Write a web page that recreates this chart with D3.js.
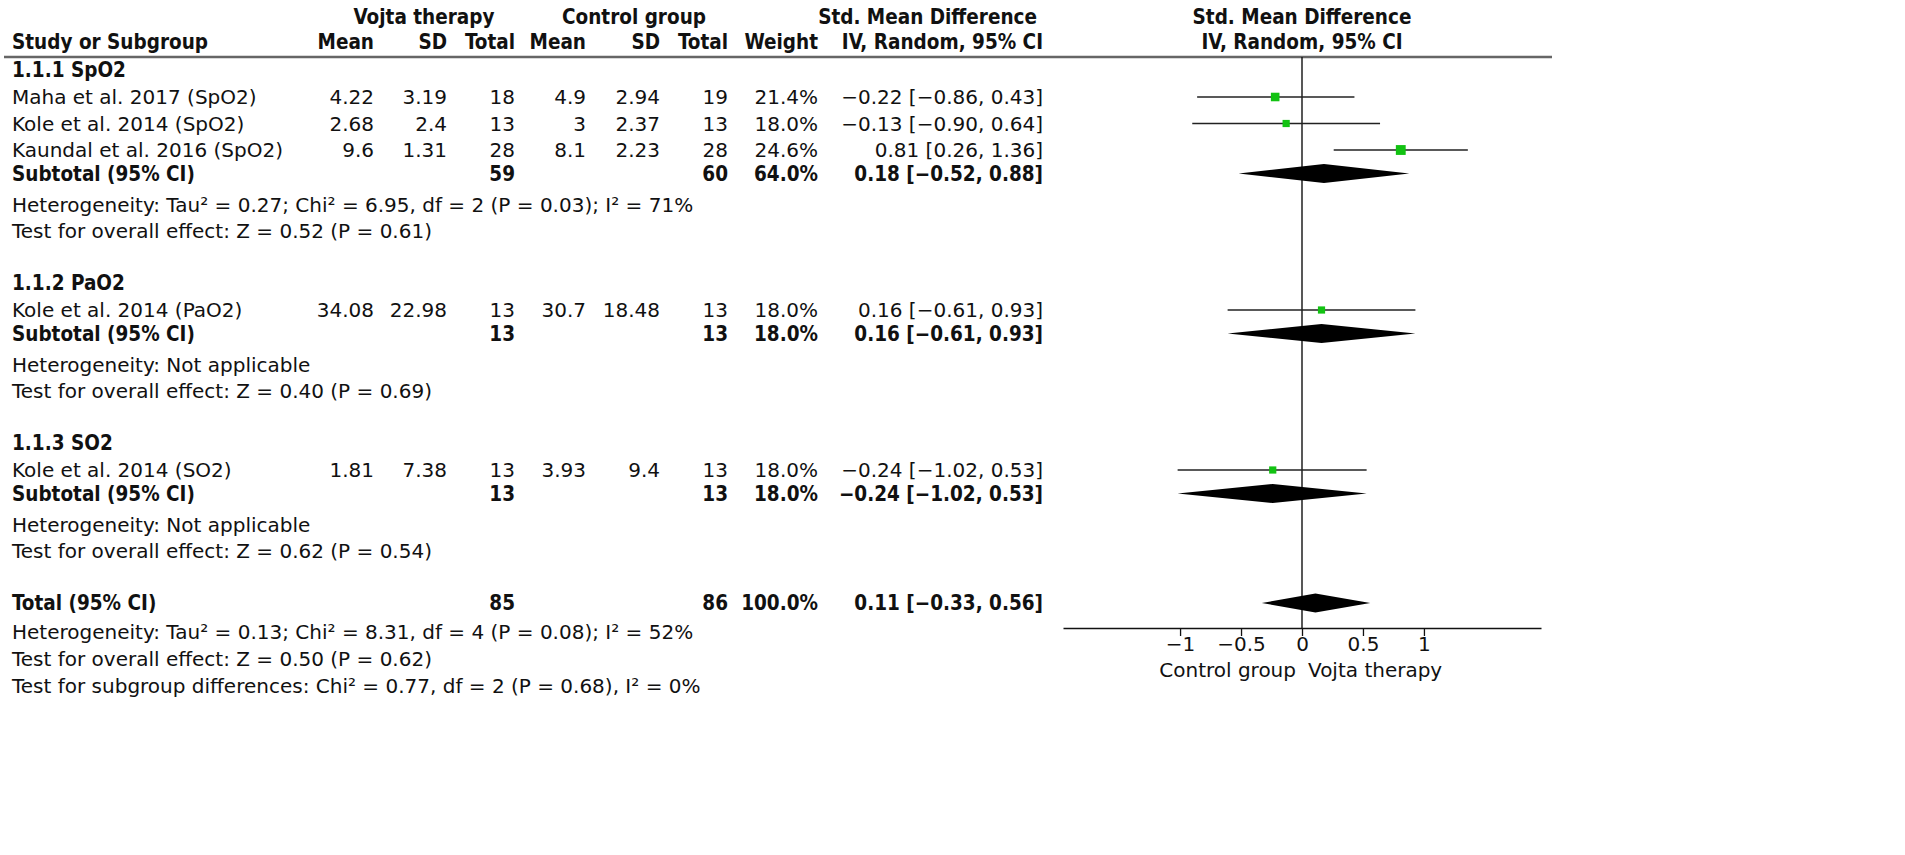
<!DOCTYPE html>
<html>
<head>
<meta charset="utf-8">
<script src="https://cdn.jsdelivr.net/npm/d3@7"></script>
<style>
  html, body { margin: 0; padding: 0; background: #fff; }
  text { font-family: "DejaVu Sans", Verdana, sans-serif; font-size: 20px; fill: #111; }
  .b { font-weight: bold; font-stretch: condensed; font-size: 20.5px; }
</style>
</head>
<body>
<svg id="chart" width="1905" height="855"></svg>
<script>
// --- données des études ---
const studyNames = ["Maha et al. 2017 (SpO2)", "Kole et al. 2014 (SpO2)", "Kaundal et al. 2016 (SpO2)", "Kole et al. 2014 (PaO2)", "Kole et al. 2014 (SO2)"];
const studyGroup = [0, 0, 0, 1, 2];
const vojtaMean = ["4.22", "2.68", "9.6", "34.08", "1.81"];
const vojtaSD = ["3.19", "2.4", "1.31", "22.98", "7.38"];
const vojtaTotal = [18, 13, 28, 13, 13];
const controlMean = ["4.9", "3", "8.1", "30.7", "3.93"];
const controlSD = ["2.94", "2.37", "2.23", "18.48", "9.4"];
const controlTotal = [19, 13, 28, 13, 13];
const studyWeight = [21.4, 18.0, 24.6, 18.0, 18.0];
const studySmd = [-0.22, -0.13, 0.81, 0.16, -0.24];
const studyLow = [-0.86, -0.90, 0.26, -0.61, -1.02];
const studyHigh = [0.43, 0.64, 1.36, 0.93, 0.53];

// --- sous-groupes ---
const subgroupNames = ["1.1.1 SpO2", "1.1.2 PaO2", "1.1.3 SO2"];
const subVojtaTotal = [59, 13, 13];
const subControlTotal = [60, 13, 13];
const subWeight = [64.0, 18.0, 18.0];
const subSmd = [0.18, 0.16, -0.24];
const subLow = [-0.52, -0.61, -1.02];
const subHigh = [0.88, 0.93, 0.53];
const subHeterogeneity = [
  "Heterogeneity: Tau² = 0.27; Chi² = 6.95, df = 2 (P = 0.03); I² = 71%",
  "Heterogeneity: Not applicable",
  "Heterogeneity: Not applicable"
];
const subOverall = [
  "Test for overall effect: Z = 0.52 (P = 0.61)",
  "Test for overall effect: Z = 0.40 (P = 0.69)",
  "Test for overall effect: Z = 0.62 (P = 0.54)"
];

// --- total ---
const totalVojta = 85, totalControl = 86, totalWeight = 100.0;
const totalSmd = 0.11, totalLow = -0.33, totalHigh = 0.56;
const totalNotes = [
  "Heterogeneity: Tau² = 0.13; Chi² = 8.31, df = 4 (P = 0.08); I² = 52%",
  "Test for overall effect: Z = 0.50 (P = 0.62)",
  "Test for subgroup differences: Chi² = 0.77, df = 2 (P = 0.68), I² = 0%"
];

// --- axe ---
const axisTicks = [-1, -0.5, 0, 0.5, 1];
const axisTickLabels = ["−1", "−0.5", "0", "0.5", "1"];
const favourLabels = ["Control group", "Vojta therapy"];

const svg = d3.select("#chart");
const f2 = d3.format(".2f");
const f1 = d3.format(".1f");
const ciText = (e, l, h) => `${f2(e)} [${f2(l)}, ${f2(h)}]`;

// colonnes (bord droit pour les nombres)
const col = { name: 12, m1: 374, sd1: 447, n1: 515, m2: 586, sd2: 660, n2: 728, w: 818, ci: 1043 };

const x = d3.scaleLinear().domain([-1.96, 1.96]).range([1063, 1541]);
const boxSize = d3.scaleLinear().domain([0, 25]).range([0, 10]);
const axisY = 628;
const halfDiamond = 9.5;

function txt(xp, yp, s, anchor, bold) {
  return svg.append("text")
    .attr("x", xp).attr("y", yp).attr("dy", "0.36em")
    .attr("text-anchor", anchor || "start")
    .attr("class", bold ? "b" : null)
    .text(s);
}

// --- en-têtes ---
txt(424, 17, "Vojta therapy", "middle", true);
txt(634, 17, "Control group", "middle", true);
txt(col.ci - 6, 17, "Std. Mean Difference", "end", true);
txt(x(0), 17, "Std. Mean Difference", "middle", true);
txt(col.name, 42, "Study or Subgroup", "start", true);
txt(col.m1, 42, "Mean", "end", true);
txt(col.sd1, 42, "SD", "end", true);
txt(col.n1, 42, "Total", "end", true);
txt(col.m2, 42, "Mean", "end", true);
txt(col.sd2, 42, "SD", "end", true);
txt(col.n2, 42, "Total", "end", true);
txt(col.w, 42, "Weight", "end", true);
txt(col.ci, 42, "IV, Random, 95% CI", "end", true);
txt(x(0), 42, "IV, Random, 95% CI", "middle", true);

svg.append("line")
  .attr("x1", 4).attr("x2", 1552).attr("y1", 57).attr("y2", 57)
  .attr("stroke", "#666").attr("stroke-width", 2.4);

// ligne verticale (effet nul)
svg.append("line")
  .attr("x1", x(0)).attr("x2", x(0)).attr("y1", 57).attr("y2", axisY)
  .attr("stroke", "#111").attr("stroke-width", 1.4);

function diamond(yc, e, l, h) {
  const pts = [[x(l), yc], [x(e), yc - halfDiamond], [x(h), yc], [x(e), yc + halfDiamond]];
  svg.append("path").attr("d", d3.line()(pts) + "Z").attr("fill", "#000");
}

// --- lignes ---
let y = 70;
subgroupNames.forEach((g, gi) => {
  txt(col.name, y, g, "start", true);
  y += 27;
  const idx = studyNames.map((_, i) => i).filter(i => studyGroup[i] === gi);
  idx.forEach((i, k) => {
    if (k > 0) y += 26.5;
    txt(col.name, y, studyNames[i]);
    txt(col.m1, y, vojtaMean[i], "end");
    txt(col.sd1, y, vojtaSD[i], "end");
    txt(col.n1, y, vojtaTotal[i], "end");
    txt(col.m2, y, controlMean[i], "end");
    txt(col.sd2, y, controlSD[i], "end");
    txt(col.n2, y, controlTotal[i], "end");
    txt(col.w, y, f1(studyWeight[i]) + "%", "end");
    txt(col.ci, y, ciText(studySmd[i], studyLow[i], studyHigh[i]), "end");
    svg.append("line")
      .attr("x1", x(studyLow[i])).attr("x2", x(studyHigh[i]))
      .attr("y1", y).attr("y2", y)
      .attr("stroke", "#222").attr("stroke-width", 1.6);
    const s = boxSize(studyWeight[i]);
    svg.append("rect")
      .attr("x", x(studySmd[i]) - s / 2).attr("y", y - s / 2)
      .attr("width", s).attr("height", s)
      .attr("fill", "#12c212");
  });
  y += 23.5;
  txt(col.name, y, "Subtotal (95% CI)", "start", true);
  txt(col.n1, y, subVojtaTotal[gi], "end", true);
  txt(col.n2, y, subControlTotal[gi], "end", true);
  txt(col.w, y, f1(subWeight[gi]) + "%", "end", true);
  txt(col.ci, y, ciText(subSmd[gi], subLow[gi], subHigh[gi]), "end", true);
  diamond(y, subSmd[gi], subLow[gi], subHigh[gi]);
  y += 31;
  txt(col.name, y, subHeterogeneity[gi]);
  y += 26.5;
  txt(col.name, y, subOverall[gi]);
  y += 52;
});

txt(col.name, y, "Total (95% CI)", "start", true);
txt(col.n1, y, totalVojta, "end", true);
txt(col.n2, y, totalControl, "end", true);
txt(col.w, y, f1(totalWeight) + "%", "end", true);
txt(col.ci, y, ciText(totalSmd, totalLow, totalHigh), "end", true);
diamond(y, totalSmd, totalLow, totalHigh);
y += 29;
totalNotes.forEach((n, i) => txt(col.name, y + i * 27, n));

// --- axe du bas ---
const axis = svg.append("g")
  .attr("transform", `translate(0,${axisY})`)
  .call(d3.axisBottom(x).tickValues(axisTicks)
    .tickFormat((d, i) => axisTickLabels[i])
    .tickSize(8).tickSizeOuter(0).tickPadding(1));
axis.selectAll("path, line").attr("stroke", "#111").attr("stroke-width", 1.3);
axis.selectAll("text")
  .style("font-family", "\"DejaVu Sans\", Verdana, sans-serif")
  .style("font-size", "20px").attr("fill", "#111");

txt(x(0) - 6, 670, favourLabels[0], "end");
txt(x(0) + 6, 670, favourLabels[1], "start");
</script>
</body>
</html>
